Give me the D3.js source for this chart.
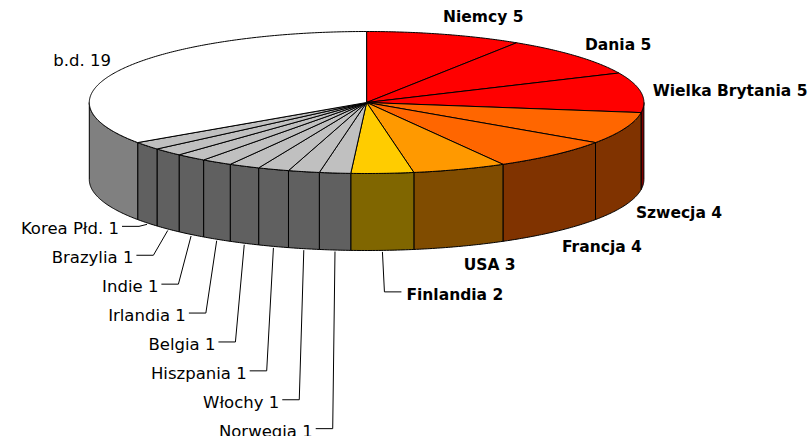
<!DOCTYPE html>
<html lang="pl">
<head>
  <meta charset="UTF-8">
  <title>Pie 3D</title>
  <script src="https://d3js.org/d3.v7.min.js"></script>
  <style>
    body { margin: 0; background: #fff; }
    svg { display: block; }
    text { font-family: "DejaVu Sans", Verdana, sans-serif; font-size: 16.5px; fill: #000; }
    text.bold { font-weight: bold; font-size: 15.5px; }
  </style>
</head>
<body>
  <svg width="810" height="436"></svg>
  <script>
    // data
    const categories = ["Niemcy", "Dania", "Wielka Brytania", "Szwecja", "Francja", "USA", "Finlandia",
      "Norwegia", "Włochy", "Hiszpania", "Belgia", "Irlandia", "Indie", "Brazylia", "Korea Płd.", "b.d."];
    const values = [5, 5, 5, 4, 4, 3, 2, 1, 1, 1, 1, 1, 1, 1, 1, 19];
    const topColors = ["#ff0000", "#ff0000", "#ff0000", "#ff6600", "#ff6600", "#ff9900", "#ffcc00",
      "#c0c0c0", "#c0c0c0", "#c0c0c0", "#c0c0c0", "#c0c0c0", "#c0c0c0", "#c0c0c0", "#c0c0c0", "#ffffff"];
    const sideColors = ["#800000", "#800000", "#800000", "#803300", "#803300", "#804c00", "#806600",
      "#606060", "#606060", "#606060", "#606060", "#606060", "#606060", "#606060", "#606060", "#808080"];

    const svg = d3.select("svg");
    const cx = 366.6, cy = 102.5, rx = 277.3, ry = 71, depth = 77;

    // projection of the flat pie onto the screen (angle clockwise from top)
    const sx = d3.scaleLinear().domain([-1, 1]).range([cx - rx, cx + rx]);
    const sy = d3.scaleLinear().domain([-1, 1]).range([cy + ry, cy - ry]);
    const pt = (a, z = 0) => [sx(Math.sin(a)), sy(Math.cos(a)) + z];

    const pie = d3.pie().sort(null).value(d => d.v);
    const data = categories.map((c, i) => ({ c, v: values[i], i }));
    const arcs = pie(data);

    const arcPts = (a0, a1, z) => {
      const n = Math.max(2, Math.ceil((a1 - a0) / 0.01));
      return d3.range(n + 1).map(k => pt(a0 + (a1 - a0) * k / n, z));
    };
    const line = d3.line();

    // side walls (front half only)
    const sides = svg.append("g");
    arcs.forEach(d => {
      const s0 = Math.max(d.startAngle, Math.PI / 2), s1 = Math.min(d.endAngle, 3 * Math.PI / 2);
      if (s1 <= s0) return;
      const p = arcPts(s0, s1, 0).concat(arcPts(s0, s1, depth).reverse());
      sides.append("path")
        .attr("d", line(p) + "Z")
        .attr("fill", sideColors[d.data.i])
        .attr("stroke", "#000").attr("stroke-width", 1).attr("stroke-linejoin", "round");
    });

    // top faces
    const tops = svg.append("g");
    arcs.forEach(d => {
      const p = [[cx, cy]].concat(arcPts(d.startAngle, d.endAngle, 0));
      tops.append("path")
        .attr("d", line(p) + "Z")
        .attr("fill", topColors[d.data.i])
        .attr("stroke", "#000").attr("stroke-width", 1).attr("stroke-linejoin", "round");
    });

    // labels
    const lbl = svg.append("g");
    const labRx = 289, labRy = 90;
    const smalls = arcs.filter(d => d.data.v <= 2);
    const leftSmalls = smalls.filter(d => Math.sin((d.startAngle + d.endAngle) / 2) < 0).reverse();
    const stackStep = 28.9;

    arcs.forEach(d => {
      const m = (d.startAngle + d.endAngle) / 2;
      const text = d.data.c + " " + d.data.v;
      const bold = d.data.i < 7;
      if (d.data.v > 2) {
        const faceY = Math.cos(m) > 0 ? cy : cy + depth;
        lbl.append("text")
          .attr("class", bold ? "bold" : null)
          .attr("x", cx + labRx * Math.sin(m) - (Math.cos(m) > 0.9 ? 5 : 0))
          .attr("y", faceY - labRy * Math.cos(m) + 6)
          .attr("text-anchor", Math.sin(m) > 0 ? "start" : "end")
          .text(text);
        return;
      }
      const e = pt(m, depth); e[1] += 1.5;
      let elbow, tail, tx, anchor;
      if (Math.sin(m) > 0) {
        elbow = [e[0] + 2, e[1] + 40];
        tail = elbow[0] + 17; tx = elbow[0] + 22; anchor = "start";
      } else {
        const k = leftSmalls.indexOf(d);
        const first = pt((leftSmalls[0].startAngle + leftSmalls[0].endAngle) / 2, depth);
        const ey = first[1] + 3.5 + k * stackStep;
        const dx = Math.min(20 * Math.abs(Math.sin(m)), ey - e[1] + 6);
        elbow = [e[0] - dx, ey];
        tail = elbow[0] - 17; tx = elbow[0] - 20; anchor = "end";
      }
      lbl.append("path")
        .attr("d", line([e, elbow, [tail, elbow[1]]]))
        .attr("fill", "none").attr("stroke", "#000").attr("stroke-width", 1);
      lbl.append("text")
        .attr("class", bold ? "bold" : null)
        .attr("x", tx).attr("y", elbow[1] + 8)
        .attr("text-anchor", anchor)
        .text(text);
    });
  </script>
</body>
</html>
